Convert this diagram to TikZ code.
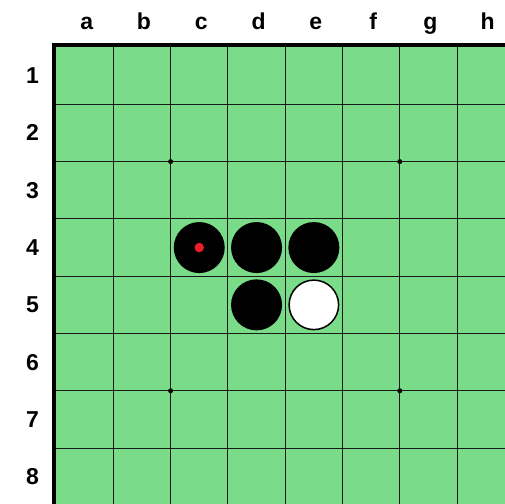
\documentclass[tikz,border=0pt]{standalone}
\usepackage{fontspec}
\setmainfont{Liberation Sans}
\definecolor{boardgreen}{RGB}{122,219,136}
\definecolor{markred}{RGB}{232,30,40}

\begin{document}
\begin{tikzpicture}[
  x=1pt, y=-1pt,
  axislabel/.style={font=\fontsize{23}{27}\selectfont\bfseries, inner sep=0pt, anchor=base},
  gridline/.style={line width=1pt, black!90},
  star/.style={circle, fill=black, inner sep=0pt, minimum size=5pt},
  blackstone/.style={circle, fill=black, inner sep=0pt, minimum size=51pt},
  whitestone/.style={circle, draw=black, line width=1.5pt, fill=white, inner sep=0pt, minimum size=49.5pt},
  lastmove/.style={circle, fill=markred, inner sep=0pt, minimum size=9.5pt}
]
\useasboundingbox (0,0) rectangle (505,503);
\clip (0,0) rectangle (505,503);
\def\cell{57.3}

% board
\fill[boardgreen] (56,47) rectangle +(8*\cell, 8*\cell);
\foreach \i in {1,...,7} {
  \draw[gridline] (56+\i*\cell, 47) -- +(0, 8*\cell);
  \draw[gridline] (56, 47+\i*\cell) -- +(8*\cell, 0);
}
\draw[line width=4pt] (54,45) rectangle +(8*\cell+4, 8*\cell+4);

% coordinates
\foreach \c [count=\i] in {a,b,c,d,e,f,g,h}
  \node[axislabel] (col-\c) at (56+\i*\cell-0.5*\cell+2, 29.5) {\c};
\foreach \r in {1,...,8}
  \node[axislabel] (row-\r) at (32.5, 47+\r*\cell-0.5*\cell+8) {\r};

% star points
\foreach \i in {2,6}
  \foreach \j in {2,6}
    \node[star] (star-\i\j) at (56+\i*\cell, 47+\j*\cell) {};

% stones
\node[blackstone] (stone-c4) at (56+2.5*\cell, 47+3.5*\cell) {};
\node[blackstone] (stone-d4) at (56+3.5*\cell, 47+3.5*\cell) {};
\node[blackstone] (stone-e4) at (56+4.5*\cell, 47+3.5*\cell) {};
\node[blackstone] (stone-d5) at (56+3.5*\cell, 47+4.5*\cell) {};
\node[whitestone] (stone-e5) at (56+4.5*\cell, 47+4.5*\cell) {};
\node[lastmove] (mark-c4) at (stone-c4) {};
\end{tikzpicture}
\end{document}
